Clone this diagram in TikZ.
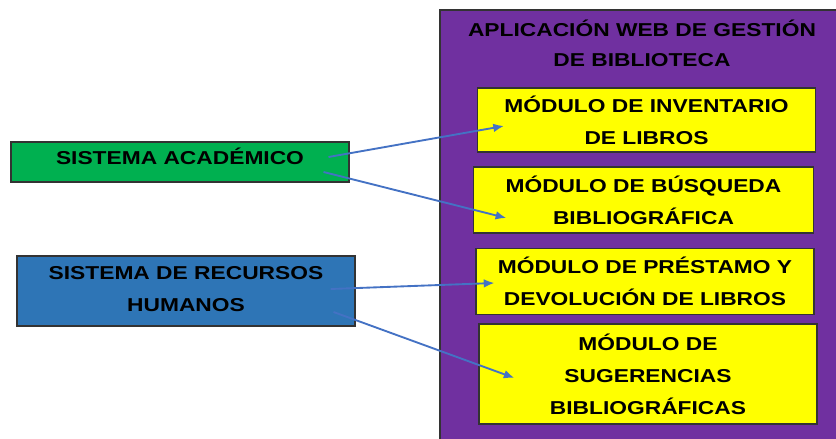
\documentclass[tikz,border=0pt]{standalone}
\usepackage{fontspec}
\setmainfont{Liberation Sans}[FakeStretch=1.22]
\usetikzlibrary{calc,arrows.meta}
\definecolor{sysgreen}{RGB}{0, 176, 80}
\definecolor{sysblue}{RGB}{46, 117, 182}
\definecolor{apppurple}{RGB}{112, 48, 160}
\definecolor{modyellow}{RGB}{255, 255, 0}
\definecolor{linkblue}{RGB}{68, 114, 196}

\tikzset{
    sysbox/.style={draw=black!80, line width=0.8pt, inner sep=0pt, align=center,
        font=\fontsize{14}{24}\selectfont\bfseries, minimum width=253.5pt},
    modbox/.style={sysbox, fill=modyellow},
    link/.style={draw=linkblue, line width=1.4pt, -{Latex[length=8pt,width=6.5pt]}}
}

\begin{document}
\begin{tikzpicture}[x=0.75pt, y=-0.75pt]
    \useasboundingbox (0,0) rectangle (836,439);
    \clip (0,0) rectangle (836,439);

    % Main application frame
    \draw[fill=apppurple, draw=black!80, line width=0.8pt] (440,10) rectangle (850,450);
    \node[align=center, font=\fontsize{14}{22.5}\selectfont\bfseries] (title) at (642,43)
        {APLICACIÓN WEB DE GESTIÓN\\DE BIBLIOTECA};

    % Modules
    \node[modbox, minimum height=48pt] (inventario) at (646.5,120) {MÓDULO DE INVENTARIO\\DE LIBROS};
    \node[modbox, minimum height=49.5pt, minimum width=254.5pt] (busqueda) at (643.5,200) {MÓDULO DE BÚSQUEDA\\BIBLIOGRÁFICA};
    \node[modbox, minimum height=50pt] (prestamo) at (645,281.5) {MÓDULO DE PRÉSTAMO Y\\DEVOLUCIÓN DE LIBROS};
    \node[modbox, minimum height=75pt] (sugerencias) at (648,374) {MÓDULO DE\\SUGERENCIAS\\BIBLIOGRÁFICAS};

    % External systems
    \node[sysbox, fill=sysgreen, minimum height=30pt, text depth=9pt] (academico) at (180,162) {SISTEMA ACADÉMICO};
    \node[sysbox, fill=sysblue, minimum height=52.5pt, text depth=3pt] (rrhh) at (186,291) {SISTEMA DE RECURSOS\\HUMANOS};

    % Links
    \draw[link] ($(academico.east)+(-21,-5)$) -- ($(inventario.west)+(27,6)$);
    \draw[link] ($(academico.east)+(-26,10)$) -- ($(busqueda.west)+(33,18)$);
    \draw[link] ($(rrhh.east)+(-25,-2)$) -- ($(prestamo.west)+(19,1.5)$);
    \draw[link] ($(rrhh.east)+(-22,21)$) -- ($(sugerencias.west)+(36,4)$);
\end{tikzpicture}
\end{document}
